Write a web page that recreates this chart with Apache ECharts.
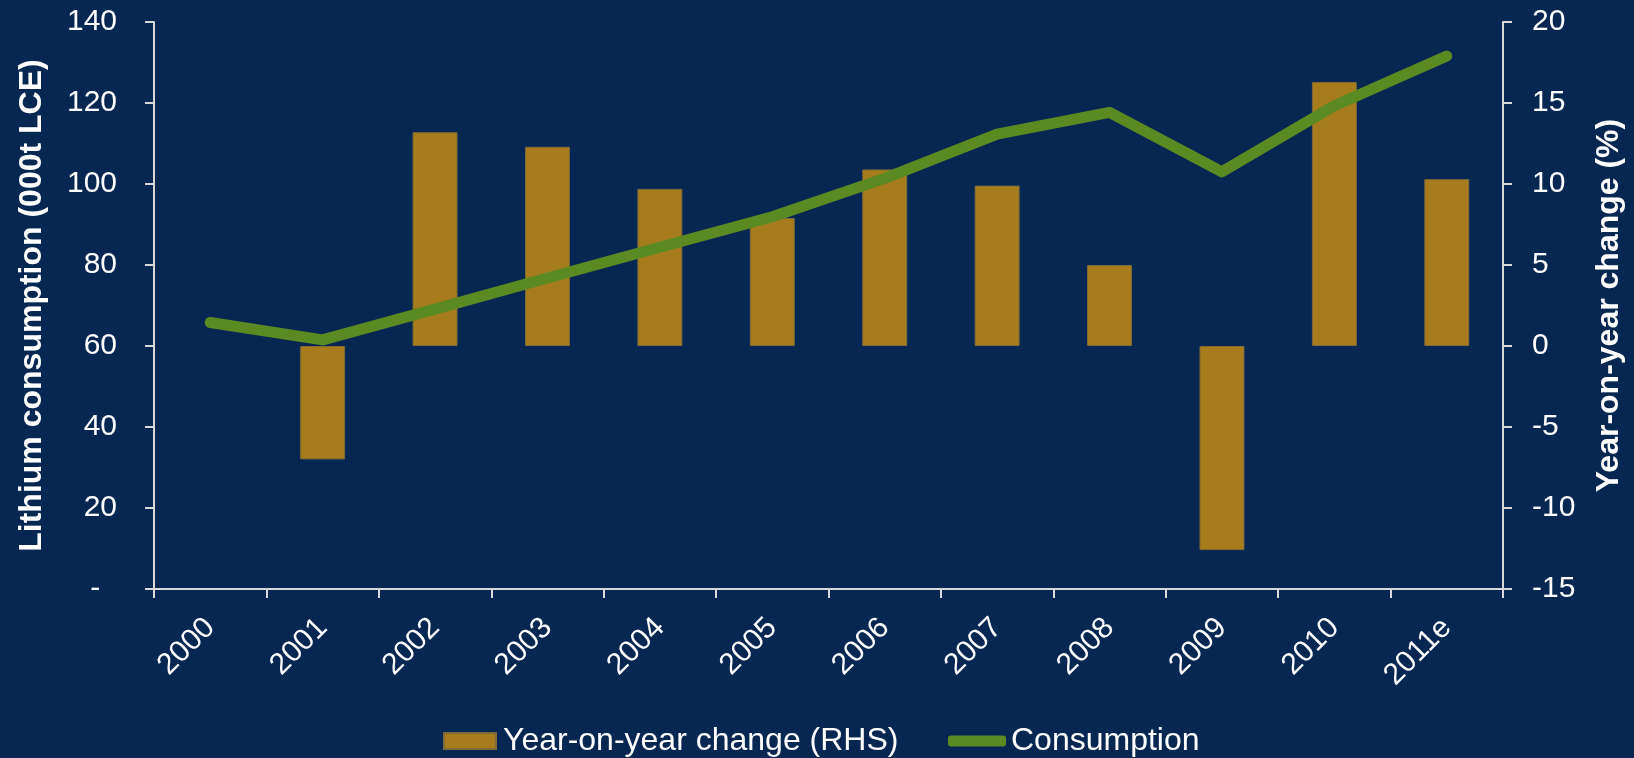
<!DOCTYPE html>
<html>
<head>
<meta charset="utf-8">
<script src="https://cdn.jsdelivr.net/npm/echarts@6/dist/echarts.min.js"></script>
<style>
html,body{margin:0;padding:0;background:#052752;}
#chart{width:1634px;height:758px;}
</style>
</head>
<body>
<div id="chart"></div>
<script>
const categories = ['2000','2001','2002','2003','2004','2005','2006','2007','2008','2009','2010','2011e'];
const consumption = [65.8, 61.5, 69.1, 76.8, 84.4, 91.9, 101.4, 112.3, 117.7, 103.0, 119.3, 131.6];
const yoyChange = [null, -7.0, 13.2, 12.3, 9.7, 7.9, 10.9, 9.9, 5.0, -12.6, 16.3, 10.3];
const leftTicks = {min: 0, max: 140, interval: 20};
const rightTicks = {min: -15, max: 20, interval: 5};

const FONT = '"Liberation Sans", Arial, sans-serif';
const AXIS_COLOR = '#D9D9D9';
const chart = echarts.init(document.getElementById('chart'));
chart.setOption({
  backgroundColor: '#052752',
  animation: false,
  textStyle: {fontFamily: FONT, color: '#FFFFFF'},
  grid: {left: 154, right: 131, top: 22, bottom: 169, containLabel: false},
  legend: [
    {
      data: ['Year-on-year change (RHS)'],
      left: 443, top: 725, padding: 0,
      itemWidth: 52, itemHeight: 16, itemGap: 0,
      icon: 'rect',
      textStyle: {color: '#FFFFFF', fontSize: 32, fontFamily: FONT, padding: [0,0,0,2]}
    },
    {
      data: ['Consumption'],
      left: 948, top: 725, padding: 0,
      itemWidth: 58, itemHeight: 11, itemGap: 0,
      icon: 'roundRect',
      textStyle: {color: '#FFFFFF', fontSize: 32, fontFamily: FONT, padding: [0,0,0,0]}
    }
  ],
  xAxis: {
    type: 'category',
    data: categories,
    boundaryGap: true,
    axisLine: {onZero: false, lineStyle: {color: AXIS_COLOR, width: 2}},
    axisTick: {show: true, length: 9, lineStyle: {color: AXIS_COLOR, width: 2}},
    axisLabel: {color: '#FFFFFF', fontSize: 30, fontFamily: FONT, rotate: 45, margin: 34, interval: 0},
    splitLine: {show: false}
  },
  yAxis: [
    {
      type: 'value',
      position: 'left',
      min: leftTicks.min, max: leftTicks.max, interval: leftTicks.interval,
      name: 'Lithium consumption (000t LCE)',
      nameLocation: 'middle', nameRotate: 90, nameGap: 106,
      nameTextStyle: {color: '#FFFFFF', fontSize: 32, fontWeight: 'bold', fontFamily: FONT},
      axisLine: {show: true, lineStyle: {color: AXIS_COLOR, width: 2}},
      axisTick: {show: true, length: 9, lineStyle: {color: AXIS_COLOR, width: 2}},
      axisLabel: {color: '#FFFFFF', fontSize: 30, fontFamily: FONT, margin: 37,
        formatter: v => v === 0 ? '-\u00a0\u00a0' : String(v)},
      splitLine: {show: false}
    },
    {
      type: 'value',
      position: 'right',
      min: rightTicks.min, max: rightTicks.max, interval: rightTicks.interval,
      name: 'Year-on-year change (%)',
      nameLocation: 'middle', nameRotate: 90, nameGap: 90,
      nameTextStyle: {color: '#FFFFFF', fontSize: 32, fontWeight: 'bold', fontFamily: FONT},
      axisLine: {show: true, lineStyle: {color: AXIS_COLOR, width: 2}},
      axisTick: {show: true, length: 9, lineStyle: {color: AXIS_COLOR, width: 2}},
      axisLabel: {color: '#FFFFFF', fontSize: 30, fontFamily: FONT, margin: 29},
      splitLine: {show: false}
    }
  ],
  series: [
    {
      name: 'Year-on-year change (RHS)',
      type: 'bar',
      yAxisIndex: 1,
      data: yoyChange,
      barWidth: '40%',
      itemStyle: {color: '#A67C1C', borderColor: '#7E6A3A', borderWidth: 1}
    },
    {
      name: 'Consumption',
      type: 'line',
      yAxisIndex: 0,
      data: consumption,
      symbol: 'none',
      z: 5,
      lineStyle: {color: '#5B8A22', width: 11, cap: 'round', join: 'round'},
      itemStyle: {color: '#5B8A22'}
    }
  ]
});
</script>
</body>
</html>
